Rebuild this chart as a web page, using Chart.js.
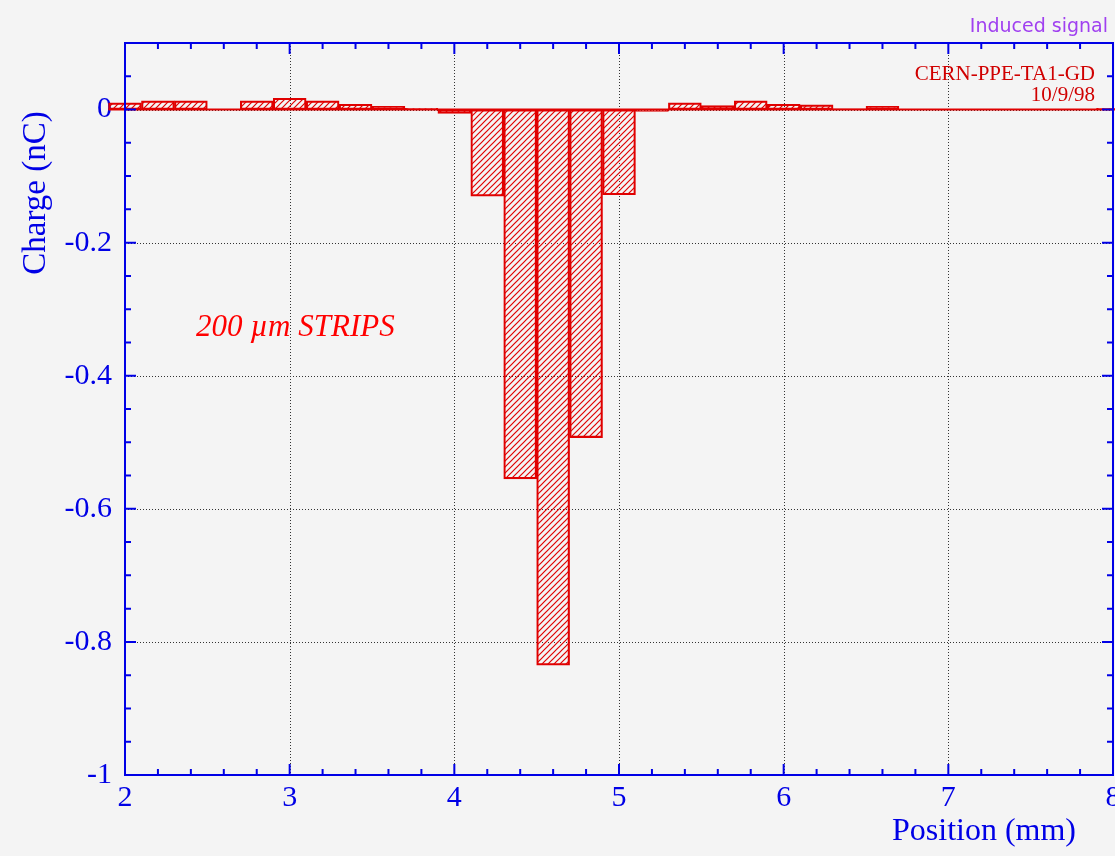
<!DOCTYPE html>
<html>
<head>
<meta charset="utf-8">
<script src="https://cdn.jsdelivr.net/npm/chart.js@4.4.0/dist/chart.umd.min.js"></script>
<style>
  html, body { margin: 0; padding: 0; background: #f4f4f4; }
  #wrap { width: 1115px; height: 856px; }
</style>
</head>
<body>
<div id="wrap"><canvas id="myChart" width="1115" height="856"></canvas></div>
<script>
// strip centres (mm) and induced charge (nC)
const positions = [2.0, 2.2, 2.4, 2.6, 2.8, 3.0, 3.2, 3.4, 3.6, 3.8,
                   4.0, 4.2, 4.4, 4.6, 4.8, 5.0, 5.2, 5.4, 5.6, 5.8,
                   6.0, 6.2, 6.4, 6.6, 6.8, 7.0, 7.2, 7.4, 7.6, 7.8, 8.0];
const charges = [0.010, 0.013, 0.013, 0.000, 0.013, 0.017, 0.013, 0.008, 0.005, 0.002,
                 -0.006, -0.130, -0.555, -0.835, -0.493, -0.128, -0.003, 0.010, 0.006, 0.013,
                 0.008, 0.007, 0.001, 0.005, 0.000, 0.000, 0.000, 0.000, 0.000, 0.000, 0.002];
const binWidth = 0.2;

const xTicks = [2, 3, 4, 5, 6, 7, 8];
const yTicks = [0, -0.2, -0.4, -0.6, -0.8, -1];

const RED = '#e00000';
const BLUE = '#0000e6';

// diagonal hatch fill
function hatch() {
    const c = document.createElement('canvas');
    c.width = 6; c.height = 6;
    const g = c.getContext('2d');
    g.strokeStyle = RED;
    g.lineWidth = 1.2;
    g.beginPath();
    g.moveTo(0, 6); g.lineTo(6, 0);
    g.moveTo(-1, 1); g.lineTo(1, -1);
    g.moveTo(5, 7); g.lineTo(7, 5);
    g.stroke();
    return g.createPattern(c, 'repeat');
}

const decor = {
    id: 'decor',
    beforeDraw(chart) {
        const ctx = chart.ctx;
        ctx.save();
        ctx.fillStyle = '#f4f4f4';
        ctx.fillRect(0, 0, chart.width, chart.height);
        const a = chart.chartArea, xs = chart.scales.x, ys = chart.scales.y;
        // dotted grid
        ctx.strokeStyle = '#333';
        ctx.lineWidth = 1;
        ctx.setLineDash([1, 2]);
        ctx.beginPath();
        xTicks.forEach(v => {
            const px = Math.round(xs.getPixelForValue(v)) + 0.5;
            if (px > a.left + 2 && px < a.right - 2) { ctx.moveTo(px, a.top); ctx.lineTo(px, a.bottom); }
        });
        yTicks.forEach(v => {
            const py = Math.round(ys.getPixelForValue(v)) + 0.5;
            if (py > a.top + 2 && py < a.bottom - 2) { ctx.moveTo(a.left, py); ctx.lineTo(a.right, py); }
        });
        ctx.stroke();
        ctx.restore();
    },
    afterDatasetsDraw(chart) {
        const ctx = chart.ctx;
        const a = chart.chartArea, xs = chart.scales.x, ys = chart.scales.y;
        ctx.save();
        ctx.strokeStyle = BLUE;
        ctx.lineWidth = 2;
        ctx.strokeRect(a.left, a.top, a.right - a.left, a.bottom - a.top);
        ctx.beginPath();
        // x ticks, every 0.2 mm, longer on the integers
        for (let i = 0; i <= 30; i++) {
            const px = xs.getPixelForValue(2 + i * 0.2);
            const len = i % 5 === 0 ? 11 : 6;
            ctx.moveTo(px, a.bottom); ctx.lineTo(px, a.bottom - len);
            ctx.moveTo(px, a.top); ctx.lineTo(px, a.top + len);
        }
        // y ticks, every 0.05
        for (let i = 0; i <= 22; i++) {
            const py = ys.getPixelForValue(-1 + i * 0.05);
            const len = i % 4 === 0 ? 11 : 6;
            ctx.moveTo(a.left, py); ctx.lineTo(a.left + len, py);
            ctx.moveTo(a.right, py); ctx.lineTo(a.right - len, py);
        }
        ctx.stroke();

        // texts
        ctx.fillStyle = '#a040f0';
        ctx.font = '19px "DejaVu Sans"';
        ctx.textAlign = 'right';
        ctx.textBaseline = 'alphabetic';
        ctx.fillText('Induced signal', 1108, 32);

        ctx.fillStyle = '#d00000';
        ctx.font = '21px "Liberation Serif"';
        ctx.fillText('CERN-PPE-TA1-GD', 1095, 80);
        ctx.fillText('10/9/98', 1095, 101);

        ctx.fillStyle = '#ff0000';
        ctx.font = 'italic 31px "Liberation Serif"';
        ctx.textAlign = 'left';
        ctx.fillText('200 \u00b5m STRIPS', 196, 336);

        ctx.fillStyle = BLUE;
        ctx.font = '32px "Liberation Serif"';
        ctx.textAlign = 'right';
        ctx.fillText('Position (mm)', 1076, 840);

        ctx.save();
        ctx.translate(45, 193);
        ctx.rotate(-Math.PI / 2);
        ctx.textAlign = 'center';
        ctx.font = '33px "Liberation Serif"';
        ctx.fillText('Charge (nC)', 0, 0);
        ctx.restore();
        ctx.restore();
    }
};

const ctx = document.getElementById('myChart').getContext('2d');
const first = positions[0] - binWidth / 2;
const last = positions[positions.length - 1] + binWidth / 2;

const myChart = new Chart(ctx, {
    type: 'bar',
    data: {
        datasets: [{
            type: 'line',
            data: [{ x: first, y: 0 }, { x: last, y: 0 }],
            borderColor: RED,
            borderWidth: 2,
            pointRadius: 0,
            clip: false,
            order: 0
        }, {
            label: 'Charge',
            data: positions.map((p, i) => ({ x: p, y: charges[i] })),
            backgroundColor: hatch(),
            borderColor: RED,
            borderWidth: 1.5,
            borderSkipped: false,
            barPercentage: 1,
            categoryPercentage: 1,
            clip: false,
            order: 1
        }]
    },
    options: {
        responsive: false,
        animation: false,
        layout: { padding: { top: 43, right: 2, left: 0, bottom: 0 } },
        plugins: { legend: { display: false }, tooltip: { enabled: false } },
        scales: {
            x: {
                type: 'linear',
                min: 2, max: 8,
                offset: false,
                grid: { display: false, drawTicks: false, offset: false },
                border: { display: false },
                afterBuildTicks: s => { s.ticks = xTicks.map(v => ({ value: v })); },
                afterFit: s => { s.height = 81; s.paddingLeft = 0; s.paddingRight = 0; },
                ticks: {
                    color: BLUE,
                    padding: 5,
                    font: { family: 'Liberation Serif', size: 30 },
                    maxRotation: 0,
                    callback: v => String(v)
                }
            },
            y: {
                min: -1, max: 0.1,
                grid: { display: false, drawTicks: false },
                border: { display: false },
                afterBuildTicks: s => { s.ticks = yTicks.map(v => ({ value: v })); },
                afterFit: s => { s.width = 125; s.paddingTop = 0; s.paddingBottom = 0; },
                ticks: {
                    color: BLUE,
                    padding: 13,
                    font: { family: 'Liberation Serif', size: 30 },
                    callback: v => String(+v.toFixed(1))
                }
            }
        }
    },
    plugins: [decor]
});
</script>
</body>
</html>
